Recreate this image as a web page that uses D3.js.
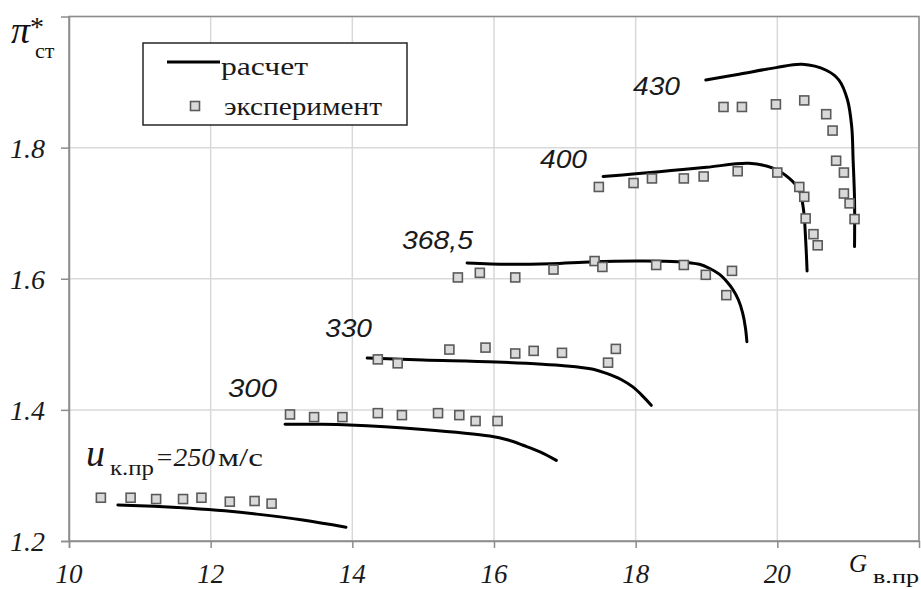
<!DOCTYPE html>
<html>
<head>
<meta charset="utf-8">
<script src="https://cdn.jsdelivr.net/npm/d3@7"></script>
</head>
<body style="margin:0">
<svg id="chart" width="921" height="589" font-family="Liberation Serif"></svg>
<script>
// Corrected rotor tip speed for each characteristic, m/s
const speeds = ["250", "300", "330", "368,5", "400", "430"];

// Calculated characteristics: [G_в.пр, π*_ст]
const calc250 = [[10.69,1.255],[11.2,1.253],[11.71,1.250],[12.2,1.246],[12.65,1.241],[13.3,1.232],[13.91,1.221]];
const calc300 = [[13.05,1.378],[13.5,1.378],[13.96,1.377],[15.0,1.370],[15.94,1.360],[16.2,1.354],[16.41,1.346],[16.65,1.336],[16.88,1.323]];
const calc330 = [[14.21,1.479],[15.0,1.476],[16.03,1.473],[17.02,1.467],[17.4,1.462],[17.58,1.456],[17.8,1.446],[17.96,1.435],[18.1,1.421],[18.22,1.407]];
const calc368 = [[15.62,1.624],[16.2,1.622],[16.8,1.623],[17.4,1.626],[18.0,1.627],[18.6,1.626],[18.9,1.622],[19.04,1.616],[19.18,1.607],[19.3,1.594],[19.37,1.584],[19.45,1.568],[19.51,1.548],[19.55,1.525],[19.57,1.504]];
const calc400 = [[17.54,1.756],[18.0,1.760],[18.5,1.765],[19.0,1.770],[19.6,1.776],[19.93,1.769],[20.17,1.753],[20.31,1.735],[20.37,1.705],[20.40,1.659],[20.42,1.612]];
const calc430 = [[18.99,1.903],[19.46,1.912],[19.98,1.922],[20.35,1.927],[20.69,1.918],[20.87,1.903],[20.99,1.873],[21.05,1.832],[21.07,1.781],[21.09,1.720],[21.09,1.649]];

// Measured points: [G_в.пр, π*_ст]
const exp250 = [[10.45,1.266],[10.87,1.266],[11.23,1.264],[11.61,1.264],[11.87,1.266],[12.27,1.260],[12.62,1.261],[12.86,1.257]];
const exp300 = [[13.12,1.393],[13.46,1.389],[13.86,1.389],[14.36,1.395],[14.70,1.392],[15.21,1.395],[15.51,1.392],[15.74,1.383],[16.05,1.383]];
const exp330 = [[14.36,1.477],[14.64,1.471],[15.37,1.492],[15.88,1.495],[16.30,1.486],[16.56,1.490],[16.96,1.487],[17.61,1.472],[17.72,1.493]];
const exp368 = [[15.49,1.602],[15.80,1.609],[16.30,1.602],[16.84,1.614],[17.42,1.627],[17.53,1.618],[18.29,1.621],[18.68,1.621],[18.99,1.606],[19.36,1.612],[19.28,1.575]];
const exp400 = [[17.48,1.740],[17.97,1.746],[18.23,1.753],[18.68,1.753],[18.96,1.756],[19.44,1.764],[20.00,1.762],[20.31,1.740],[20.38,1.725],[20.40,1.692],[20.51,1.668],[20.57,1.651]];
const exp430 = [[19.24,1.862],[19.50,1.862],[19.98,1.866],[20.38,1.872],[20.69,1.851],[20.78,1.826],[20.83,1.780],[20.94,1.762],[20.94,1.730],[21.02,1.715],[21.09,1.691]];

// Axis ticks
const xTicks = [10, 12, 14, 16, 18, 20];
const yTicks = [1.2, 1.4, 1.6, 1.8];
const xGrid = [12, 14, 16, 18, 20, 22];
const yGrid = [1.4, 1.6, 1.8, 2.0];

const calcSeries = [calc250, calc300, calc330, calc368, calc400, calc430];
const expSeries = [exp250, exp300, exp330, exp368, exp400, exp430];

const SERIF = "Liberation Serif";
const SANS = "Liberation Sans";
const INK = "#1a1a1a";

const svg = d3.select("#chart");
const x = d3.scaleLinear().domain([10, 22]).range([69, 919]);
const y = d3.scaleLinear().domain([1.2, 2.0]).range([541, 16.5]);

// Text run helper: font settings are set as presentation attributes
function txt(parent, s, px, py, o) {
  const t = parent.append("text").attr("x", px).attr("y", py)
    .attr("font-family", o.family).attr("font-size", o.size)
    .attr("fill", o.fill || INK).text(s);
  if (o.italic) t.attr("font-style", "italic");
  if (o.len) t.attr("textLength", o.len).attr("lengthAdjust", "spacingAndGlyphs");
  return t;
}

svg.append("rect").attr("width", 921).attr("height", 589).attr("fill", "#fff");

// Grid
const grid = svg.append("g").attr("stroke", "#d9d9d9").attr("stroke-width", 1.5);
grid.selectAll("line.v").data(xGrid).join("line")
  .attr("x1", d => x(d)).attr("x2", d => x(d))
  .attr("y1", y(2.0)).attr("y2", y(1.2));
grid.selectAll("line.h").data(yGrid).join("line")
  .attr("x1", x(10)).attr("x2", x(22))
  .attr("y1", d => y(d)).attr("y2", d => y(d));

// Plot frame
svg.append("rect")
  .attr("x", x(10)).attr("y", y(2.0))
  .attr("width", x(22) - x(10)).attr("height", y(1.2) - y(2.0))
  .attr("fill", "none").attr("stroke", "#8c8c8c").attr("stroke-width", 1.5);

// Axes: tick lines from d3, labels drawn as plain text at the scale positions
const yAxis = svg.append("g").attr("transform", `translate(${x(10)},0)`)
  .call(d3.axisLeft(y).tickValues(yTicks).tickSize(8).tickFormat(""));
const xAxis = svg.append("g").attr("transform", `translate(0,${y(1.2)})`)
  .call(d3.axisBottom(x).tickValues(xTicks).tickSize(7).tickFormat(""));
[xAxis, yAxis].forEach(g => {
  g.select(".domain").attr("stroke", "#8c8c8c").attr("stroke-width", 1.5);
  g.selectAll(".tick line").attr("stroke", "#8c8c8c").attr("stroke-width", 1.5);
});
const tickLab = svg.append("g");
yTicks.forEach(v => {
  txt(tickLab, d3.format(".1f")(v), x(10) - 24, y(v) + 10, { family: SERIF, size: 28, italic: true })
    .attr("text-anchor", "end");
});
xTicks.forEach(v => {
  txt(tickLab, String(v), x(v), y(1.2) + 42, { family: SERIF, size: 27, italic: true })
    .attr("text-anchor", "middle");
});

// Calculated lines
const line = d3.line().x(d => x(d[0])).y(d => y(d[1])).curve(d3.curveCatmullRom.alpha(0.5));
svg.append("g").selectAll("path").data(calcSeries).join("path")
  .attr("d", line)
  .attr("fill", "none").attr("stroke", "#000").attr("stroke-width", 3)
  .attr("stroke-linecap", "round").attr("stroke-linejoin", "round");

// Measured points
const ms = 9;
svg.append("g").selectAll("g").data(expSeries).join("g")
  .selectAll("rect").data(d => d).join("rect")
  .attr("x", d => x(d[0]) - ms / 2).attr("y", d => y(d[1]) - ms / 2)
  .attr("width", ms).attr("height", ms)
  .attr("fill", "#d9d9d9").attr("stroke", "#5a5a5a").attr("stroke-width", 1.6);

// Speed labels
const labelPos = [null, [228, 397, 49], [325, 337, 47], [402, 249, 71], [540, 168, 47], [633, 95, 47]];
const labels = svg.append("g");
speeds.forEach((s, i) => {
  if (!labelPos[i]) return;
  const [lx, ly, lw] = labelPos[i];
  txt(labels, s, lx, ly, { family: SANS, size: 25, italic: true, len: lw });
});

// Label of the lowest characteristic: u_к.пр=250 м/с
const uLab = svg.append("g");
txt(uLab, "u", 86, 466, { family: SERIF, size: 38, italic: true });
txt(uLab, "к.пр", 110, 475, { family: SERIF, size: 22, len: 44 });
txt(uLab, "=" + speeds[0], 155, 466, { family: SERIF, size: 25, italic: true, len: 60 });
txt(uLab, "м/с", 218, 466, { family: SERIF, size: 25, len: 45 });

// Y axis title: π*_ст
const yt = svg.append("g");
txt(yt, "π", 11, 43, { family: SERIF, size: 38, italic: true, fill: "#111" });
txt(yt, "*", 30, 36, { family: SERIF, size: 28, fill: "#111" });
txt(yt, "ст", 35, 58, { family: SERIF, size: 22, fill: "#111" });

// X axis title: G_в.пр
const xt = svg.append("g");
txt(xt, "G", 849, 572, { family: SERIF, size: 25, italic: true, fill: "#111" });
txt(xt, "в.пр", 873, 583, { family: SERIF, size: 19, len: 46, fill: "#111" });

// Legend
const lg = svg.append("g");
lg.append("rect").attr("x", 143).attr("y", 43).attr("width", 264).attr("height", 82)
  .attr("fill", "#fff").attr("stroke", "#262626").attr("stroke-width", 1.5);
lg.append("line").attr("x1", 167).attr("x2", 220).attr("y1", 62).attr("y2", 62)
  .attr("stroke", "#000").attr("stroke-width", 3);
lg.append("rect").attr("x", 195 - ms / 2).attr("y", 106 - ms / 2).attr("width", ms).attr("height", ms)
  .attr("fill", "#d9d9d9").attr("stroke", "#5a5a5a").attr("stroke-width", 1.6);
txt(lg, "расчет", 221, 75, { family: SERIF, size: 26, len: 87 });
txt(lg, "эксперимент", 224, 115, { family: SERIF, size: 26, len: 158 });
</script>
</body>
</html>
